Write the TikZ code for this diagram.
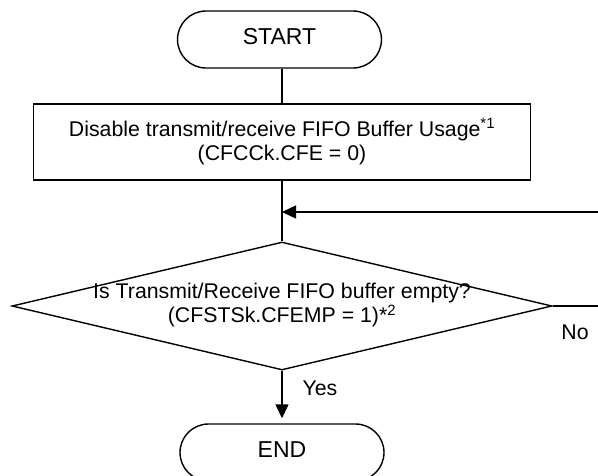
\documentclass[tikz,border=0pt]{standalone}
\usepackage{fontspec}
\setmainfont{Liberation Sans}
\usetikzlibrary{arrows.meta,shapes.geometric,shapes.misc}
\newcommand{\bodyfont}{\fontsize{21.3}{24.5}\selectfont}
\tikzset{
  base/.style={line width=1.4pt},
  term/.style={draw, base, rounded rectangle, minimum width=204pt, minimum height=57pt,
    inner sep=0pt, font=\fontsize{23}{26}\selectfont, text depth=6pt},
  proc/.style={draw, base, rectangle, minimum width=497pt, minimum height=76pt,
    inner sep=0pt, align=center, font=\bodyfont},
  decis/.style={draw, base, diamond, minimum width=540pt, minimum height=128pt, inner sep=0pt},
  lbl/.style={font=\bodyfont, align=center, inner sep=0pt},
  conn/.style={base},
  arr/.style={base, -{Triangle[length=14pt,width=13pt]}},
}
\begin{document}
\begin{tikzpicture}[x=1pt,y=-1pt]
\useasboundingbox (0,0) rectangle (598,475);
\fill[white] (0,0) rectangle (598,475);
\clip (0,0) rectangle (598,475);
\node[term] (start) at (279.5,39.5) {START};
\node[proc] (box) at (282,142) {Disable transmit/receive FIFO Buffer Usage\textsuperscript{*1}\\(CFCCk.CFE = 0)};
\node[decis] (dec) at (282,306) {};
\node[lbl] (dectxt) at (282,305) {Is Transmit/Receive FIFO buffer empty?\\(CFSTSk.CFEMP = 1)*\textsuperscript{2}};
\node[term] (end) at (282,452.5) {END};
\node[lbl] (yes) at (320,388) {Yes};
\node[lbl] (no) at (575,332) {No};
\coordinate (merge) at (282,212);
\coordinate (loopR) at (640,212);
\draw[conn] (start.south -| box.north) -- (box.north);
\draw[conn] (box.south) -- (dec.north);
\draw[arr] (dec.east) -- (dec.east -| loopR) -- (loopR) -- (merge);
\draw[arr, shorten >=5pt] (dec.south) -- (end.north);
\end{tikzpicture}
\end{document}
